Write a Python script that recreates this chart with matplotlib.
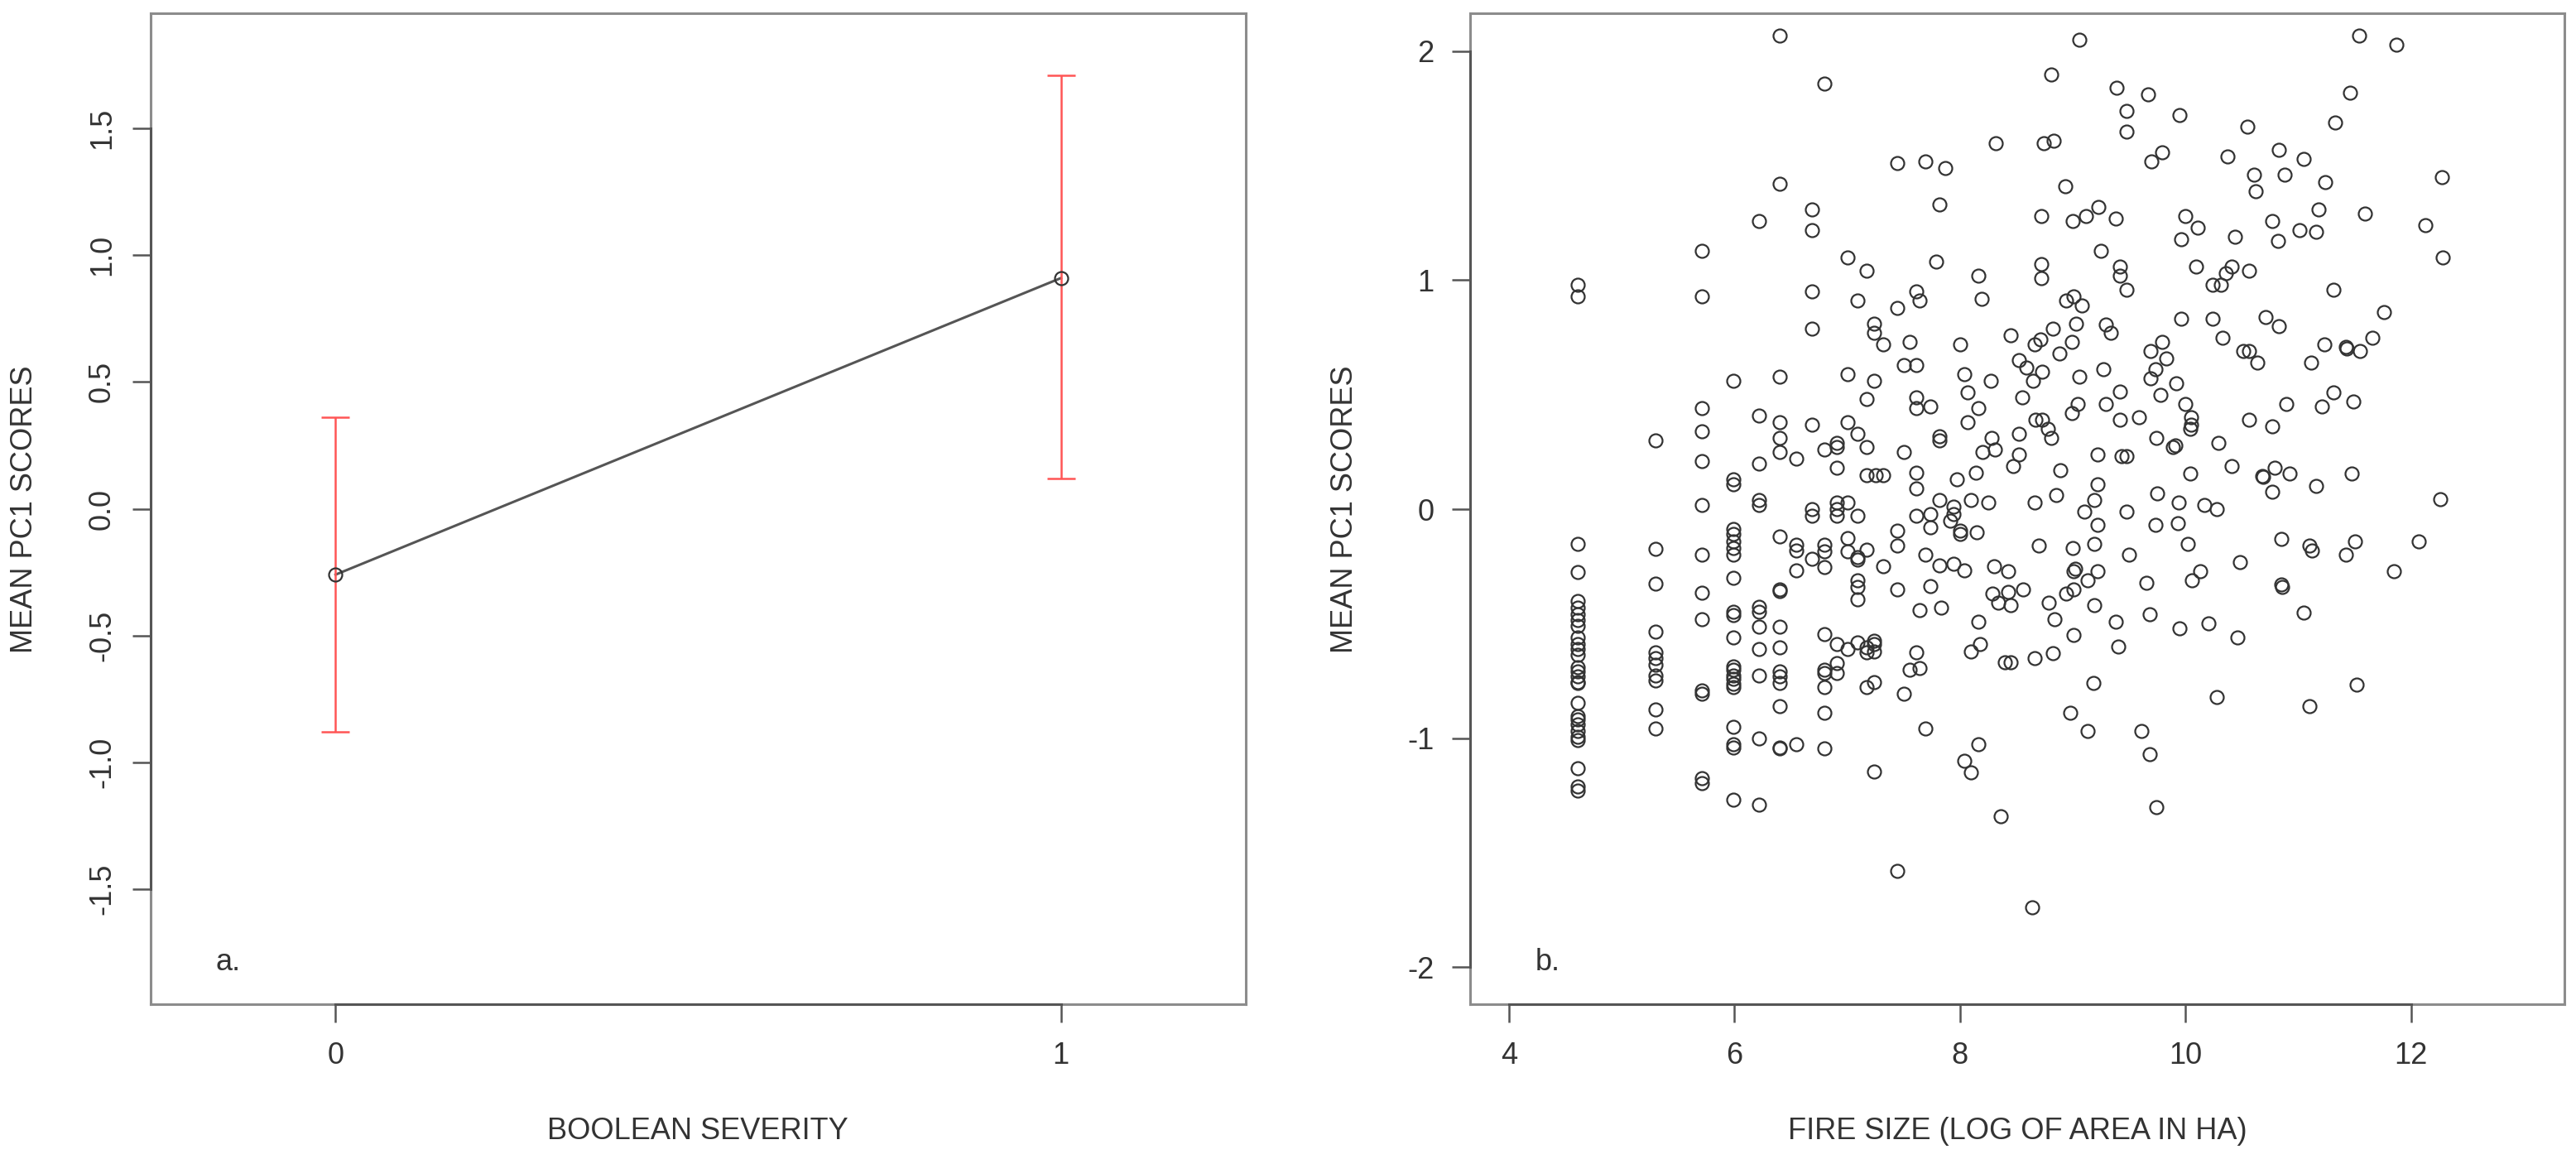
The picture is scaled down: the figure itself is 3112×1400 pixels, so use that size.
import matplotlib
matplotlib.use("Agg")
import matplotlib.pyplot as plt
import numpy as np

plt.rcParams['font.family'] = ['Liberation Sans', 'DejaVu Sans']

# ---------------- panel a data ----------------
severity = [0, 1]
severity_mean = [-0.26, 0.91]
severity_lower = [-0.88, 0.12]
severity_upper = [0.36, 1.71]
severity_ticks = [0, 1]
score_ticks_a = [-1.5, -1.0, -0.5, 0.0, 0.5, 1.0, 1.5]

# ---------------- panel b data (fire size, PC1 score) ----------------
pts_upper_left = [
    (6.40, 2.07), (6.80, 1.86), (7.44, 1.51), (7.69, 1.52), (7.87, 1.49), (7.82, 1.33), (6.40, 1.42),
    (6.22, 1.26), (6.69, 1.31), (6.69, 1.22), (5.71, 1.13), (7.00, 1.10), (7.17, 1.04), (7.79, 1.08),
    (8.16, 1.02), (8.19, 0.92), (4.61, 0.98), (4.61, 0.93), (5.71, 0.93), (6.69, 0.95), (7.09, 0.91),
    (7.44, 0.88), (7.61, 0.95), (7.64, 0.91), (6.69, 0.79), (7.24, 0.81), (7.24, 0.77), (7.32, 0.72),
    (7.55, 0.73), (8.00, 0.72), (7.50, 0.63), (7.61, 0.63), (8.04, 0.59), (8.07, 0.51), (8.16, 0.44),
    (8.07, 0.38), (5.99, 0.56), (6.40, 0.58), (7.00, 0.59), (7.24, 0.56), (7.17, 0.48), (7.61, 0.49),
    (7.61, 0.44), (7.74, 0.45), (5.71, 0.44), (5.71, 0.34), (5.71, 0.21), (5.30, 0.30), (6.22, 0.41),
    (6.40, 0.38), (6.40, 0.31), (6.40, 0.25), (6.55, 0.22), (6.22, 0.20), (6.69, 0.37), (7.00, 0.38),
    (7.09, 0.33), (7.17, 0.27), (6.80, 0.26), (6.91, 0.29), (6.91, 0.27), (6.91, 0.18), (7.82, 0.32),
    (7.82, 0.30), (7.50, 0.25), (8.20, 0.25), (5.99, 0.13), (5.99, 0.11), (7.17, 0.15), (7.25, 0.15),
    (7.32, 0.15), (7.61, 0.16), (7.61, 0.09), (7.97, 0.13), (8.14, 0.16),
]

pts_middle_left = [
    (5.71, 0.02), (6.22, 0.04), (6.22, 0.02), (6.69, 0.00), (6.69, -0.03), (6.91, 0.03), (6.91, 0.00),
    (6.91, -0.03), (7.00, 0.03), (7.09, -0.03), (7.82, 0.04), (7.94, 0.01), (7.94, -0.02), (8.10, 0.04),
    (7.61, -0.03), (7.74, -0.02), (7.74, -0.08), (7.91, -0.05), (8.00, -0.095), (8.00, -0.11),
    (8.15, -0.10), (6.40, -0.12), (6.55, -0.155), (6.55, -0.18), (6.80, -0.155), (6.80, -0.185),
    (6.69, -0.215), (7.00, -0.125), (7.00, -0.185), (7.09, -0.21), (7.09, -0.22), (7.17, -0.177),
    (7.32, -0.25), (7.44, -0.095), (7.44, -0.16), (7.69, -0.20), (7.82, -0.245), (7.94, -0.237),
    (8.04, -0.267), (4.61, -0.15), (5.30, -0.175), (5.71, -0.20), (5.99, -0.087), (5.99, -0.11),
    (5.99, -0.14), (5.99, -0.17), (5.99, -0.20), (6.55, -0.267), (6.80, -0.252),
]

pts_lower_left = [
    (4.61, -0.275), (4.61, -0.40), (4.61, -0.43), (4.61, -0.46), (4.61, -0.485), (4.61, -0.51),
    (4.61, -0.56), (4.61, -0.59), (4.61, -0.61), (4.61, -0.635), (4.61, -0.69), (4.61, -0.71),
    (4.61, -0.73), (4.61, -0.755), (4.61, -0.76), (4.61, -0.845), (4.61, -0.905), (4.61, -0.92),
    (4.61, -0.94), (4.61, -0.97), (4.61, -0.995), (4.61, -1.01), (4.61, -1.13), (4.61, -1.21),
    (4.61, -1.23),
    (5.30, -0.327), (5.30, -0.534), (5.30, -0.627), (5.30, -0.65), (5.30, -0.68), (5.30, -0.725),
    (5.30, -0.747), (5.30, -0.875), (5.30, -0.957),
    (5.71, -0.365), (5.71, -0.48), (5.71, -0.79), (5.71, -0.807), (5.71, -1.175), (5.71, -1.197),
    (5.99, -0.30), (5.99, -0.447), (5.99, -0.462), (5.99, -0.56), (5.99, -0.687), (5.99, -0.70),
    (5.99, -0.725), (5.99, -0.74), (5.99, -0.762), (5.99, -0.777), (5.99, -0.95), (5.99, -1.025),
    (5.99, -1.04), (5.99, -1.27),
    (6.22, -0.425), (6.22, -0.447), (6.22, -0.515), (6.22, -0.612), (6.22, -0.725), (6.22, -1.00),
    (6.22, -1.29),
    (6.40, -0.35), (6.40, -0.357), (6.40, -0.515), (6.40, -0.605), (6.40, -0.71), (6.40, -0.73),
    (6.40, -0.76), (6.40, -0.86), (6.40, -1.04), (6.40, -1.045),
    (6.55, -1.025), (6.80, -0.545), (6.80, -0.70), (6.80, -0.717), (6.80, -0.777), (6.80, -0.89),
    (6.80, -1.045), (6.91, -0.59), (6.91, -0.672), (6.91, -0.717), (7.00, -0.61), (7.09, -0.31),
    (7.09, -0.34), (7.09, -0.395), (7.09, -0.582), (7.17, -0.605), (7.17, -0.627), (7.17, -0.777),
    (7.24, -0.575), (7.24, -0.59), (7.24, -0.62), (7.24, -0.755), (7.24, -1.145), (7.44, -0.35),
    (7.44, -1.58), (7.50, -0.807), (7.55, -0.702), (7.61, -0.627), (7.64, -0.44), (7.64, -0.695),
    (7.69, -0.957), (7.74, -0.335), (7.83, -0.43), (8.04, -1.10), (8.10, -0.62), (8.10, -1.15),
    (8.16, -0.49), (8.16, -1.025), (8.18, -0.59),
]

pts_upper_right = [
    (9.06, 2.05), (8.81, 1.90), (9.39, 1.84), (9.67, 1.81), (9.48, 1.74), (9.48, 1.65), (9.95, 1.72),
    (11.54, 2.07), (11.87, 2.03), (11.46, 1.82), (11.33, 1.69), (10.55, 1.67), (8.32, 1.60), (8.74, 1.60),
    (8.83, 1.61), (9.79, 1.56), (9.70, 1.52), (10.37, 1.54), (10.83, 1.57), (11.05, 1.53), (10.61, 1.46),
    (10.62, 1.39), (10.88, 1.46), (11.24, 1.43), (12.27, 1.45), (8.93, 1.41), (8.72, 1.28), (9.00, 1.26),
    (9.12, 1.28), (9.23, 1.32), (9.38, 1.27), (10.00, 1.28), (10.11, 1.23), (9.96, 1.18), (10.44, 1.19),
    (10.77, 1.26), (10.82, 1.17), (11.01, 1.22), (11.16, 1.21), (11.18, 1.31), (11.59, 1.29), (12.13, 1.24),
    (12.28, 1.10), (9.25, 1.13), (8.72, 1.07), (8.72, 1.01), (9.42, 1.06), (9.42, 1.02), (9.48, 0.96),
    (10.09, 1.06), (10.24, 0.98), (10.31, 0.98), (10.36, 1.03), (10.41, 1.06), (10.56, 1.04), (11.31, 0.96),
    (8.94, 0.91), (9.01, 0.93), (9.08, 0.89), (9.03, 0.81), (8.45, 0.76), (8.82, 0.79), (8.66, 0.72),
    (8.71, 0.74), (8.88, 0.68), (8.99, 0.73), (8.52, 0.65), (8.59, 0.62), (8.73, 0.60), (8.65, 0.56),
    (8.27, 0.56), (8.55, 0.49), (9.06, 0.58), (9.27, 0.61), (9.29, 0.805), (9.34, 0.77), (9.96, 0.83),
    (10.24, 0.83), (10.33, 0.75), (10.71, 0.84), (10.83, 0.80), (9.69, 0.69), (9.79, 0.73), (9.83, 0.66),
    (10.51, 0.69), (10.56, 0.69), (10.64, 0.64), (11.11, 0.64), (11.23, 0.72), (11.42, 0.71), (11.43, 0.70),
    (11.55, 0.69), (11.66, 0.75), (11.76, 0.86), (9.73, 0.61), (9.69, 0.57), (9.92, 0.55), (9.78, 0.50),
    (9.42, 0.515), (9.29, 0.46), (9.04, 0.46), (8.99, 0.42), (8.67, 0.39), (8.73, 0.39), (8.78, 0.35),
    (8.81, 0.31), (8.52, 0.33), (8.28, 0.31), (8.31, 0.26), (8.52, 0.24), (8.47, 0.19), (8.89, 0.17),
    (9.22, 0.24), (9.42, 0.39), (9.59, 0.40), (10.00, 0.46), (10.05, 0.40), (10.05, 0.37), (10.04, 0.35),
    (9.74, 0.31), (9.89, 0.27), (9.91, 0.28), (9.43, 0.23), (9.48, 0.23), (10.29, 0.29), (10.56, 0.39),
    (10.77, 0.36), (10.89, 0.46), (11.21, 0.45), (11.31, 0.51), (11.49, 0.47),
]

pts_middle_right = [
    (10.04, 0.157), (10.41, 0.19), (10.68, 0.145), (10.69, 0.14), (10.79, 0.18), (10.92, 0.157),
    (10.77, 0.076), (11.16, 0.10), (11.47, 0.156), (12.26, 0.045), (9.22, 0.11), (9.19, 0.04),
    (9.10, -0.01), (9.22, -0.07), (8.85, 0.06), (8.66, 0.03), (8.25, 0.03), (9.48, -0.01), (9.75, 0.07),
    (9.94, 0.03), (9.93, -0.06), (9.73, -0.07), (10.17, 0.02), (10.28, 0.00), (10.02, -0.15),
    (8.70, -0.16), (9.00, -0.17), (9.19, -0.15), (9.50, -0.20), (10.48, -0.23), (10.85, -0.13),
    (11.10, -0.16), (11.12, -0.18), (11.42, -0.20), (11.50, -0.14), (12.07, -0.14), (8.30, -0.25),
    (8.43, -0.27), (9.01, -0.27), (9.22, -0.27), (11.85, -0.27), (10.13, -0.27),
]

pts_lower_right = [
    (10.06, -0.31), (9.65, -0.32), (8.29, -0.37), (8.43, -0.36), (8.56, -0.35), (8.34, -0.41),
    (8.45, -0.42), (9.02, -0.26), (9.13, -0.31), (8.94, -0.37), (9.01, -0.35), (8.79, -0.41),
    (8.84, -0.48), (9.19, -0.42), (9.38, -0.49), (9.68, -0.46), (9.01, -0.55), (9.40, -0.60),
    (8.66, -0.65), (8.82, -0.63), (8.40, -0.67), (8.45, -0.67), (9.95, -0.52), (10.20, -0.50),
    (10.46, -0.56), (10.85, -0.33), (10.86, -0.34), (11.05, -0.45), (9.18, -0.76), (10.28, -0.82),
    (11.10, -0.86), (11.52, -0.765), (8.98, -0.89), (9.13, -0.97), (9.61, -0.97), (9.68, -1.07),
    (8.36, -1.34), (9.74, -1.30), (8.64, -1.74),
]

size_ticks = [4, 6, 8, 10, 12]
score_ticks_b = [-2, -1, 0, 1, 2]

# ---------------- figure ----------------
W, H = 3112, 1400
fig = plt.figure(figsize=(W / 100, H / 100), dpi=100)

TXT = '#333333'
FRAME = '#8c8c8c'
AXLINE = '#555555'
FS = 26

def px_rect(x0, y0, x1, y1):
    return [x0 / W, 1 - y1 / H, (x1 - x0) / W, (y1 - y0) / H]

ax1 = fig.add_axes(px_rect(182, 16, 1505, 1213))
ax2 = fig.add_axes(px_rect(1776, 16, 3098, 1213))

for ax in (ax1, ax2):
    for s in ax.spines.values():
        s.set_color(FRAME)
        s.set_linewidth(2.2)
    ax.tick_params(axis='both', direction='out', length=15.5, width=1.8, color=AXLINE,
                   labelsize=FS, labelcolor=TXT)
    ax.tick_params(top=False, right=False)

# panel a
ax1.set_xlim(-0.255, 1.255)
ax1.set_ylim(-1.955, 1.955)
ax1.plot(severity, severity_mean, '-', color='#555555', lw=2.2, zorder=2)
yerr = [np.array(severity_mean) - np.array(severity_lower),
        np.array(severity_upper) - np.array(severity_mean)]
ax1.errorbar(severity, severity_mean, yerr=yerr, fmt='none', ecolor='#ff5555',
             elinewidth=1.8, capsize=12.5, capthick=1.8, zorder=3)
ax1.plot(severity, severity_mean, 'o', mfc='none', mec='#333333', ms=11.5, mew=1.6, zorder=4)
ax1.set_xticks(severity_ticks)
ax1.set_xticklabels([str(v) for v in severity_ticks])
ax1.set_yticks(score_ticks_a)
ax1.set_yticklabels([f"{v:.1f}" for v in score_ticks_a], rotation=90, va='center')
ax1.tick_params(axis='x', pad=17)
ax1.tick_params(axis='y', pad=14)
ax1.plot([severity_ticks[0], severity_ticks[-1]], [0, 0], color=AXLINE, lw=2.2,
         transform=ax1.get_xaxis_transform(), clip_on=False, zorder=5)
ax1.plot([0, 0], [score_ticks_a[0], score_ticks_a[-1]], color=AXLINE, lw=2.2,
         transform=ax1.get_yaxis_transform(), clip_on=False, zorder=5)
ax1.text(-0.148, -1.79, 'a.', fontsize=FS, color=TXT, ha='center', va='center')

# panel b
all_pts = pts_upper_left + pts_middle_left + pts_lower_left + pts_upper_right + pts_middle_right + pts_lower_right
fire_size = [p[0] for p in all_pts]
pc1 = [p[1] for p in all_pts]
ax2.set_xlim(3.655, 13.36)
ax2.set_ylim(-2.162, 2.166)
ax2.plot(fire_size, pc1, 'o', mfc='none', mec='#333333', ms=11.5, mew=1.6, zorder=3)
ax2.set_xticks(size_ticks)
ax2.set_xticklabels([str(v) for v in size_ticks])
ax2.set_yticks(score_ticks_b)
ax2.set_yticklabels([str(v) for v in score_ticks_b])
ax2.tick_params(axis='x', pad=17)
ax2.tick_params(axis='y', pad=16)
ax2.plot([size_ticks[0], size_ticks[-1]], [0, 0], color=AXLINE, lw=2.2,
         transform=ax2.get_xaxis_transform(), clip_on=False, zorder=5)
ax2.plot([0, 0], [score_ticks_b[0], score_ticks_b[-1]], color=AXLINE, lw=2.2,
         transform=ax2.get_yaxis_transform(), clip_on=False, zorder=5)
ax2.text(4.34, -1.98, 'b.', fontsize=FS, color=TXT, ha='center', va='center')

# axis titles
fig.text(843 / W, 1 - 1366 / H, 'BOOLEAN SEVERITY', fontsize=FS, color=TXT, ha='center', va='center')
fig.text(2437 / W, 1 - 1366 / H, 'FIRE SIZE (LOG OF AREA IN HA)', fontsize=FS, color=TXT,
         ha='center', va='center')
fig.text(30 / W, 1 - 615 / H, 'MEAN PC1 SCORES', fontsize=FS, color=TXT, ha='center', va='center',
         rotation=90)
fig.text(1624 / W, 1 - 615 / H, 'MEAN PC1 SCORES', fontsize=FS, color=TXT, ha='center', va='center',
         rotation=90)

fig.savefig('out.png', dpi=100, facecolor='white')
